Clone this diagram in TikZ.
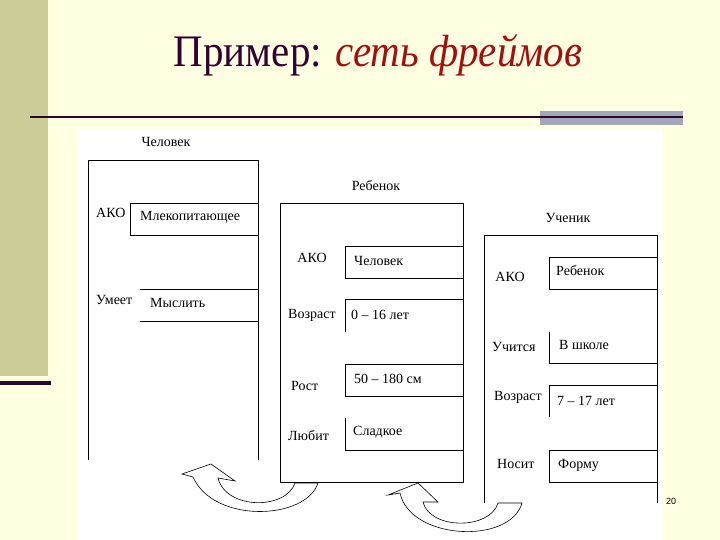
\documentclass[tikz,border=0pt]{standalone}
\usepackage{fontspec}
\setmainfont{Liberation Serif}
\newfontfamily\sansf{Liberation Sans}
\definecolor{bgyellow}{RGB}{255,255,226}
\definecolor{bandolive}{RGB}{204,204,153}
\definecolor{darkline}{RGB}{40,10,40}
\definecolor{graybar}{RGB}{164,164,186}
\definecolor{titlepurple}{RGB}{51,0,51}
\definecolor{titlered}{RGB}{160,16,16}
\begin{document}
\begin{tikzpicture}[x=1pt,y=-1pt,
  frameline/.style={draw=black,line width=0.8pt},
  lbl/.style={inner sep=0pt,font=\fontsize{14}{16}\selectfont},
  lblw/.style={lbl,anchor=west},
  blockarrow/.style={fill=white,draw=black,line width=0.6pt,line join=miter}]
\useasboundingbox (0,0) rectangle (720,540);
\fill[bgyellow] (0,0) rectangle (720,540);
\fill[bandolive] (0,0) rectangle (48,376);
\fill[darkline] (0,381) rectangle (51,385);
% title
\node[inner sep=0pt,font=\fontsize{41}{46}\selectfont,yscale=1.1] (title) at (378,55)
  {\textcolor{titlepurple}{Пример:} \textcolor{titlered}{\itshape сеть фреймов}};
\fill[graybar] (540,111) rectangle (683,125);
\draw[darkline,line width=2pt] (30,117) -- (683,117);
% white picture area
\fill[white] (78,129) rectangle (663,540);
% left frame
\draw[frameline] (88,460) -- (88,160) -- (258,160) -- (258,460);
\draw[frameline] (130,203) rectangle (258,235);
\draw[frameline] (140,289) -- (258,289);
\draw[frameline] (140,321) -- (258,321);
\node[lbl] (chel) at (166,142) {Человек};
\node[lblw] (ako1) at (96,213) {АКО};
\node[lblw] (mlek) at (140,217) {Млекопитающее};
\node[lblw] (umeet) at (96,300) {Умеет};
\node[lblw] (mysl) at (150,303) {Мыслить};
% middle frame
\draw[frameline] (280,203) rectangle (463,482);
\draw[frameline] (345,246) rectangle (463,278);
\draw[frameline] (345,332) -- (345,299) -- (463,299);
\draw[frameline] (345,364) rectangle (463,396);
\draw[frameline] (345,418) -- (345,450) -- (463,450);
\node[lbl] (reb) at (376,186) {Ребенок};
\node[lbl] (ako2) at (312,258) {АКО};
\node[lblw] (chel2) at (354,261) {Человек};
\node[lblw] (vozr2) at (288,315) {Возраст};
\node[lblw] (v016) at (351,315) {0 – 16 лет};
\node[lblw] (rost) at (291,386) {Рост};
\node[lblw] (v50) at (354,379) {50 – 180 см};
\node[lblw] (lub) at (288,436) {Любит};
\node[lblw] (slad) at (353,432) {Сладкое};
% right frame
\draw[frameline] (484,503) -- (484,235) -- (657,235) -- (657,503);
\draw[frameline] (549,257) rectangle (657,289);
\draw[frameline] (549,332) -- (549,363) -- (657,363);
\draw[frameline] (549,417) -- (549,385) -- (657,385);
\draw[frameline] (549,450) rectangle (657,482);
\node[lbl] (uch) at (568,218) {Ученик};
\node[lbl] (ako3) at (510,277) {АКО};
\node[lblw] (reb3) at (556,271) {Ребенок};
\node[lblw] (uchit) at (492,347) {Учится};
\node[lblw] (shk) at (559,345) {В школе};
\node[lblw] (vozr3) at (494,397) {Возраст};
\node[lblw] (v717) at (557,401) {7 – 17 лет};
\node[lblw] (nosit) at (497,464) {Носит};
\node[lblw] (forma) at (558,465) {Форму};
% curved block arrows
\draw[blockarrow] (318,483) .. controls (306,520) and (214,524) .. (193,477)
  -- (182,474) -- (211,464) -- (235,481) -- (218,478)
  .. controls (226,510) and (286,510) .. (295,483) -- cycle;
\draw[blockarrow] (522,503) .. controls (510,545) and (410,540) .. (400,493)
  -- (388,495) -- (418,483) -- (438,502) -- (423,502)
  .. controls (430,530) and (490,530) .. (498,503) -- cycle;
% page number
\node[inner sep=0pt,font=\sansf\fontsize{9}{10}\selectfont] (pnum) at (671,501) {20};
\end{tikzpicture}
\end{document}
